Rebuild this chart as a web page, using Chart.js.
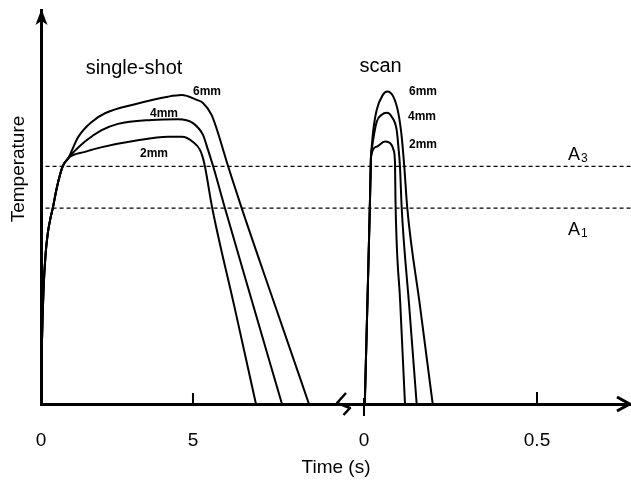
<!DOCTYPE html>
<html><head><meta charset="utf-8">
<script src="https://cdn.jsdelivr.net/npm/chart.js@4"></script>
<style>html,body{margin:0;padding:0;background:#fff}canvas{display:block}</style>
</head><body>
<canvas id="c" width="631" height="485"></canvas>
<script>
// ---- data (time in s, temperature in arbitrary relative units 0..100) ----
// single-shot: common heating rise, then branches per depth
const riseSingleT = [0, 0.033, 0.082, 0.148, 0.230, 0.313, 0.395, 0.526, 0.707, 0.898];
const riseSingleV = [0, 16.2, 28.9, 37.8, 43.7, 47.2, 50.0, 55.1, 60.2, 62.4];
const single2T = [1.447, 2.007, 3.092, 4.178, 4.638, 5.0, 5.230, 5.329, 5.395, 5.635, 6.357, 7.072];
const single2V = [64.0, 65.2, 66.8, 67.8, 67.8, 66.5, 64.5, 62.4, 60.2, 49.7, 24.9, 0];
const single4T = [1.447, 1.997, 2.533, 3.641, 4.507, 5.0, 5.329, 5.444, 5.668, 6.053, 6.990, 7.928];
const single4V = [66.6, 69.5, 71.1, 72.1, 72.3, 71.3, 68.3, 65.7, 60.2, 49.7, 24.8, 0];
const single6T = [1.227, 1.668, 2.105, 3.092, 4.178, 4.628, 5.122, 5.329, 5.615, 6.161, 6.602, 7.709, 8.816];
const single6V = [67.8, 71.6, 73.8, 76.1, 78.0, 78.4, 77.2, 76.4, 73.3, 60.2, 49.7, 24.8, 0];
// scan
const riseScanT = [0.0023, 0.0101, 0.0168, 0.0194, 0.0202];
const riseScanV = [0, 26.4, 49.7, 60.2, 62.7];
const scan2T = [0.0367, 0.0607, 0.0801, 0.0853, 0.0896, 0.0910, 0.1046, 0.1185];
const scan2V = [65.3, 66.6, 65.7, 64.5, 61.2, 51.8, 25.9, 0];
const scan4T = [0.0231, 0.0367, 0.0512, 0.0656, 0.0801, 0.0945, 0.0997, 0.1040, 0.1090, 0.1306, 0.1523];
const scan4V = [65.0, 71.6, 73.4, 73.9, 72.9, 69.5, 65.0, 60.2, 49.7, 24.9, 0];
const scan6T = [0.0223, 0.0269, 0.0367, 0.0540, 0.0673, 0.0847, 0.0991, 0.1084, 0.1165, 0.1251, 0.1618, 0.1986];
const scan6V = [65.2, 69.5, 74.6, 78.4, 79.3, 78.0, 73.9, 68.3, 60.2, 49.7, 24.9, 0];
// transformation temperatures
const A3 = 60.3;
const A1 = 49.7;
// tick labels
const singleTicks = [0, 5];
const scanTicks = [0, 0.5];
const tickLabels = ['0', '5', '0', '0.5'];
const depthLabels = ['2mm', '4mm', '6mm'];

// ---- axis ranges (broken time axis: two linear scales sharing the width) ----
const X_MIN = 0, X_MAX = 19.41;
const X2_MIN = -0.9335, X2_MAX = 0.7717;
const FONT = '"Liberation Sans", Arial, Helvetica, sans-serif';

const zip = (t, v) => t.map((x, i) => ({x, y: v[i]}));
const scanToX = s => X_MIN + (s - X2_MIN) * (X_MAX - X_MIN) / (X2_MAX - X2_MIN);

const curve = (data, axis) => ({
  data, xAxisID: axis, borderColor: '#000', borderWidth: 2, pointRadius: 0,
  cubicInterpolationMode: 'monotone', fill: false
});
const dashed = (val) => ({
  data: [{x: 0.15, y: val}, {x: X_MAX, y: val}], xAxisID: 'x',
  borderColor: '#000', borderWidth: 1.3, borderDash: [4, 3], pointRadius: 0, fill: false
});

const datasets = [
  curve(zip(riseSingleT.concat(single2T), riseSingleV.concat(single2V)), 'x'),
  curve(zip(riseSingleT.concat(single4T), riseSingleV.concat(single4V)), 'x'),
  curve(zip(riseSingleT.concat(single6T), riseSingleV.concat(single6V)), 'x'),
  curve(zip(riseScanT.concat(scan2T), riseScanV.concat(scan2V)), 'x2'),
  curve(zip(riseScanT.concat(scan4T), riseScanV.concat(scan4V)), 'x2'),
  curve(zip(riseScanT.concat(scan6T), riseScanV.concat(scan6V)), 'x2'),
  dashed(A3),
  dashed(A1)
];

const deco = {
  id: 'deco',
  afterDraw(chart) {
    const {ctx, scales: {x, x2}, chartArea: ca} = chart;
    ctx.save();
    ctx.fillStyle = '#000';
    ctx.strokeStyle = '#000';
    ctx.lineCap = 'butt';
    // y arrowhead
    const ax = ca.left + 0.5;
    ctx.beginPath();
    ctx.moveTo(ax, ca.top - 1);
    ctx.lineTo(ax - 6, ca.top + 15);
    ctx.lineTo(ax, ca.top + 11);
    ctx.lineTo(ax + 6, ca.top + 15);
    ctx.closePath();
    ctx.fill();
    // x arrowhead
    const by = ca.bottom;
    ctx.lineWidth = 3;
    ctx.lineJoin = 'miter';
    ctx.beginPath();
    ctx.moveTo(ca.right - 14, by - 7);
    ctx.lineTo(ca.right - 1.5, by);
    ctx.lineTo(ca.right - 14, by + 7);
    ctx.stroke();
    // tick marks (upward)
    ctx.lineWidth = 2;
    ctx.beginPath();
    const p5 = x.getPixelForValue(singleTicks[1]);
    ctx.moveTo(p5, by - 11); ctx.lineTo(p5, by);
    const p05 = x2.getPixelForValue(scanTicks[1]);
    ctx.moveTo(p05, by - 12); ctx.lineTo(p05, by);
    const p0 = x2.getPixelForValue(scanTicks[0]);
    ctx.moveTo(p0, by - 6); ctx.lineTo(p0, by + 12);
    ctx.stroke();
    // axis break mark
    ctx.lineWidth = 2.5;
    ctx.lineJoin = 'round';
    ctx.beginPath();
    ctx.moveTo(346, by - 11);
    ctx.lineTo(337, by - 1);
    ctx.lineTo(350, by + 4);
    ctx.lineTo(343.5, by + 11);
    ctx.stroke();
    // texts
    ctx.textBaseline = 'alphabetic';
    ctx.textAlign = 'center';
    ctx.font = '20px ' + FONT;
    ctx.fillText('single-shot', 134, 74);
    ctx.fillText('scan', 380.5, 72);
    ctx.textAlign = 'left';
    ctx.font = 'bold 12px ' + FONT;
    ctx.fillText(depthLabels[2], 193, 94.5);
    ctx.fillText(depthLabels[1], 150, 117);
    ctx.fillText(depthLabels[0], 140, 157);
    ctx.fillText(depthLabels[2], 409, 94.5);
    ctx.fillText(depthLabels[1], 408, 119.5);
    ctx.fillText(depthLabels[0], 409, 148);
    // A3 / A1
    ctx.font = '18px ' + FONT;
    ctx.fillText('A', 568, 159.5);
    ctx.fillText('A', 568, 234.5);
    ctx.font = '12px ' + FONT;
    ctx.fillText('3', 581, 162);
    ctx.fillText('1', 581, 237);
    // y title
    ctx.font = '19px ' + FONT;
    ctx.translate(24, 169);
    ctx.rotate(-Math.PI / 2);
    ctx.textAlign = 'center';
    ctx.fillText('Temperature', 0, 0);
    ctx.restore();
  }
};

new Chart(document.getElementById('c'), {
  type: 'line',
  data: {datasets},
  options: {
    responsive: false,
    animation: false,
    events: [],
    layout: {padding: {top: 10, right: 0, bottom: 0, left: 0}},
    plugins: {legend: {display: false}, tooltip: {enabled: false}},
    scales: {
      x: {
        type: 'linear', position: 'bottom', min: X_MIN, max: X_MAX,
        afterFit: s => { s.height = 81; },
        afterBuildTicks: s => {
          s.ticks = singleTicks.concat(scanTicks.map(scanToX)).map(v => ({value: v}));
        },
        grid: {drawOnChartArea: false, drawTicks: false},
        border: {display: true, width: 3, color: '#000'},
        ticks: {
          autoSkip: false, maxRotation: 0, padding: 25, color: '#000',
          font: {family: FONT, size: 19},
          callback: (v, i) => tickLabels[i]
        },
        title: {display: true, text: 'Time (s)', color: '#000',
          font: {family: FONT, size: 19}, padding: {top: 0, bottom: 6}}
      },
      x2: {
        type: 'linear', position: 'bottom', min: X2_MIN, max: X2_MAX, display: false
      },
      y: {
        type: 'linear', min: 0, max: 100,
        afterFit: s => { s.width = 41; },
        grid: {drawOnChartArea: false, drawTicks: false},
        border: {display: true, width: 3, color: '#000'},
        ticks: {display: false}
      }
    }
  },
  plugins: [deco]
});
</script>
</body></html>
